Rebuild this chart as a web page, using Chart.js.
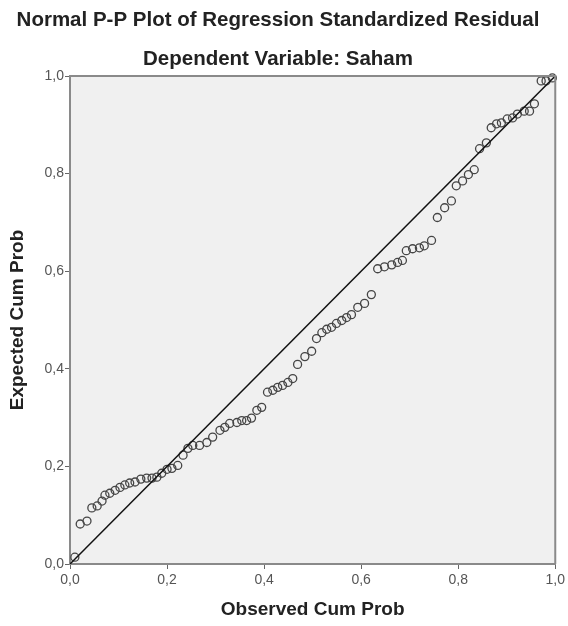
<!DOCTYPE html>
<html>
<head>
<meta charset="utf-8">
<script src="https://cdn.jsdelivr.net/npm/chart.js@4.4.1/dist/chart.umd.min.js"></script>
<style>
  html, body { margin: 0; padding: 0; background: #fff; }
  #wrap { width: 568px; height: 626px; }
</style>
</head>
<body>
<div id="wrap"><canvas id="ppChart" width="568" height="626"></canvas></div>
<script>
// Observed vs expected cumulative probabilities
const observedCum = [
  0.010, 0.021, 0.035, 0.045, 0.056, 0.066, 0.072, 0.082, 0.093, 0.103,
  0.113, 0.123, 0.134, 0.146, 0.158, 0.169, 0.179, 0.189, 0.200, 0.210,
  0.222, 0.233, 0.243, 0.253, 0.267, 0.282, 0.294, 0.309, 0.319, 0.329,
  0.344, 0.354, 0.364, 0.374, 0.385, 0.395, 0.407, 0.418, 0.428, 0.438,
  0.449, 0.459, 0.469, 0.484, 0.498, 0.508, 0.519, 0.529, 0.539, 0.549,
  0.560, 0.570, 0.580, 0.593, 0.607, 0.621, 0.634, 0.648, 0.663, 0.675,
  0.685, 0.693, 0.706, 0.720, 0.730, 0.745, 0.757, 0.772, 0.786, 0.796,
  0.809, 0.821, 0.833, 0.844, 0.858, 0.868, 0.879, 0.889, 0.901, 0.912,
  0.922, 0.936, 0.947, 0.957, 0.971, 0.981, 0.994
];
const expectedCum = [
  0.014, 0.082, 0.088, 0.115, 0.119, 0.129, 0.141, 0.145, 0.151, 0.157,
  0.162, 0.166, 0.168, 0.174, 0.176, 0.176, 0.178, 0.186, 0.194, 0.196,
  0.202, 0.223, 0.237, 0.243, 0.243, 0.249, 0.260, 0.274, 0.280, 0.288,
  0.290, 0.294, 0.294, 0.299, 0.315, 0.321, 0.352, 0.356, 0.362, 0.366,
  0.372, 0.380, 0.409, 0.425, 0.436, 0.462, 0.474, 0.481, 0.485, 0.493,
  0.499, 0.505, 0.511, 0.526, 0.534, 0.552, 0.605, 0.609, 0.613, 0.618,
  0.622, 0.642, 0.646, 0.648, 0.652, 0.663, 0.710, 0.730, 0.744, 0.775,
  0.785, 0.798, 0.808, 0.851, 0.863, 0.894, 0.902, 0.904, 0.912, 0.914,
  0.922, 0.928, 0.928, 0.943, 0.990, 0.990, 0.996
];
const refLineX = [0, 1];
const refLineY = [0, 1];
const tickValues = [0, 0.2, 0.4, 0.6, 0.8, 1.0];

const titleText = 'Normal P-P Plot of Regression Standardized Residual';
const subtitleText = 'Dependent Variable: Saham';
const xTitle = 'Observed Cum Prob';
const yTitle = 'Expected Cum Prob';

// Comma decimal labels like the SPSS output
const fmt = v => v.toFixed(1).replace('.', ',');

// Grey plot area plus frame on top/right
const plotFrame = {
    id: 'plotFrame',
    beforeDraw(chart) {
        const { ctx, chartArea: a } = chart;
        ctx.save();
        ctx.fillStyle = '#f0f0f0';
        ctx.fillRect(a.left, a.top, a.right - a.left, a.bottom - a.top);
        ctx.restore();
    },
    afterDatasetsDraw(chart) {
        const { ctx, chartArea: a } = chart;
        ctx.save();
        ctx.strokeStyle = '#8a8a8a';
        ctx.lineWidth = 2;
        ctx.beginPath();
        ctx.moveTo(a.left, a.top);
        ctx.lineTo(a.right, a.top);
        ctx.lineTo(a.right, a.bottom);
        ctx.stroke();
        ctx.restore();
    }
};

const tickFont = { family: 'Liberation Sans', size: 14 };
const axisTitleFont = { family: 'Liberation Sans', size: 19, weight: 'bold' };

const ctx = document.getElementById('ppChart').getContext('2d');
new Chart(ctx, {
    type: 'scatter',
    data: {
        datasets: [
            {
                type: 'line',
                data: refLineX.map((x, i) => ({ x, y: refLineY[i] })),
                borderColor: '#111',
                borderWidth: 1.5,
                pointRadius: 0,
                fill: false
            },
            {
                data: observedCum.map((x, i) => ({ x, y: expectedCum[i] })),
                pointRadius: 4,
                pointBorderWidth: 1.3,
                borderColor: '#454545',
                backgroundColor: 'rgba(0,0,0,0)',
                clip: false
            }
        ]
    },
    options: {
        responsive: false,
        animation: false,
        layout: { padding: { left: 0, right: 12, top: 0, bottom: 0 } },
        plugins: {
            legend: { display: false },
            tooltip: { enabled: false },
            title: {
                display: true,
                text: titleText,
                color: '#222',
                font: { family: 'Liberation Sans', size: 20.5, weight: 'bold' },
                padding: { top: 8.2, bottom: 6 }
            },
            subtitle: {
                display: true,
                text: subtitleText,
                color: '#222',
                font: { family: 'Liberation Sans', size: 20.5, weight: 'bold' },
                padding: { top: 8.4, bottom: 4.2 }
            }
        },
        scales: {
            x: {
                type: 'linear',
                min: 0,
                max: 1,
                afterFit: s => { s.height = 62; },
                afterBuildTicks: s => { s.ticks = tickValues.map(v => ({ value: v })); },
                ticks: { callback: fmt, color: '#555', padding: 3, font: tickFont },
                grid: { drawOnChartArea: false, tickLength: 5, color: '#666' },
                border: { color: '#8a8a8a', width: 2 },
                title: {
                    display: true,
                    text: xTitle,
                    color: '#222',
                    font: axisTitleFont,
                    padding: { top: 0, bottom: 4.6 }
                }
            },
            y: {
                type: 'linear',
                min: 0,
                max: 1,
                afterFit: s => { s.width = 70; },
                afterBuildTicks: s => { s.ticks = tickValues.map(v => ({ value: v })); },
                ticks: { callback: fmt, color: '#555', padding: 1, font: tickFont },
                grid: { drawOnChartArea: false, tickLength: 5, color: '#666' },
                border: { color: '#8a8a8a', width: 2 },
                title: {
                    display: true,
                    text: yTitle,
                    color: '#222',
                    font: axisTitleFont,
                    padding: { top: 6.6, bottom: 0 }
                }
            }
        }
    },
    plugins: [plotFrame]
});
</script>
</body>
</html>
